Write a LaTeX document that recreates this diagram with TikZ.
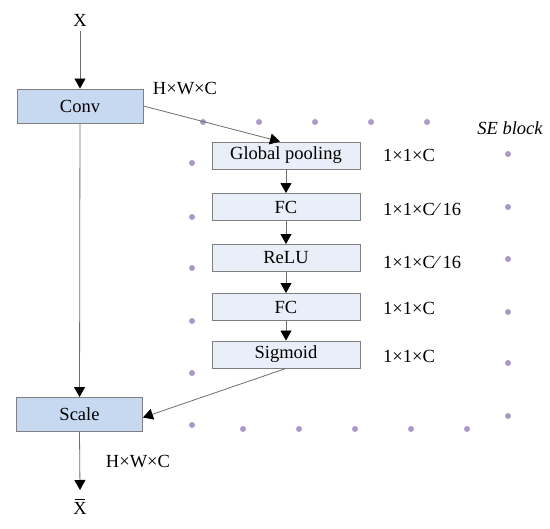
\documentclass[tikz,border=0pt]{standalone}
\usepackage{fontspec}
\setmainfont{Liberation Serif}
\newfontfamily\tms{Liberation Serif}
\usetikzlibrary{arrows.meta}
\definecolor{bigfill}{RGB}{198,217,240}
\definecolor{smallfill}{RGB}{233,239,248}
\definecolor{boxline}{RGB}{128,128,128}
\definecolor{dotc}{RGB}{170,152,200}
\newcommand{\barX}{\ooalign{X\cr\hidewidth\raisebox{0.78em}{\rule{0.55em}{0.055em}}\hidewidth\cr}}
\tikzset{
  txt/.style={font=\tms\fontsize{18.5}{20}\selectfont},
  bigbox/.style={txt, draw=boxline, fill=bigfill, line width=0.9pt, minimum width=126pt, minimum height=34pt, inner sep=0pt},
  sebox/.style={txt, draw=boxline, fill=smallfill, line width=0.9pt, minimum width=148pt, minimum height=27pt, inner sep=0pt},
  lbl/.style={txt, inner sep=0pt},
  conn/.style={draw=boxline!85!black, line width=0.8pt, -{Triangle[length=10pt,width=11pt,fill=black,color=black]}},
  sedot/.style={circle, fill=dotc, inner sep=0pt, minimum size=6pt}
}
\begin{document}
\begin{tikzpicture}[x=1pt,y=-1pt]
\useasboundingbox (0,0) rectangle (550,529);
\node[lbl] (x) at (80,20) {X};
\node[bigbox] (conv) at (80,106) {Conv};
\node[lbl] (hwc1) at (185,89) {H×W×C};
\node[sebox] (gp) at (286,155.5) {Global pooling};
\node[sebox] (fc1) at (286,207) {FC};
\node[sebox] (relu) at (286,258) {ReLU};
\node[sebox] (fc2) at (286,307) {FC};
\node[sebox] (sig) at (286,354.5) {Sigmoid};
\node[lbl, anchor=west] (l1) at (383,155) {1×1×C};
\node[lbl, anchor=west] (l2) at (383,209) {1×1×C⁄ 16};
\node[lbl, anchor=west] (l3) at (383,262) {1×1×C⁄ 16};
\node[lbl, anchor=west] (l4) at (383,308) {1×1×C};
\node[lbl, anchor=west] (l5) at (383,356) {1×1×C};
\node[lbl, font=\tms\fontsize{18.5}{20}\selectfont\itshape] (se) at (510,128) {SE block};
\node[bigbox] (scale) at (79.5,414.5) {Scale};
\node[lbl] (hwc2) at (138,462) {H×W×C};
\node[lbl] (xbar) at (80,508) {\barX};
% dots
\foreach \px [count=\i] in {203,259,315,371,427} \node[sedot] (t\i) at (\px,122) {};
\foreach \py [count=\i] in {154,207,259,312,363,416} \node[sedot] (r\i) at (508,\py) {};
\foreach \py [count=\i] in {163,217,268,321,373,425} \node[sedot] (lf\i) at (192,\py) {};
\foreach \px [count=\i] in {243,299,355,411,467} \node[sedot] (b\i) at (\px,429) {};
% connectors
\draw[conn] (x.south) ++(0,5) -- (conv.north);
\draw[conn] (conv.east) -- ([xshift=-6pt]gp.north);
\draw[conn] (gp) -- (fc1);
\draw[conn] (fc1) -- (relu);
\draw[conn] (relu) -- (fc2);
\draw[conn] (fc2) -- (sig);
\draw[conn] (conv) -- (scale);
\draw[conn] (sig.south) -- ([yshift=-3pt]scale.east);
\coordinate (xin) at (80,490);
\draw[conn] (scale.south) -- (xin);
\end{tikzpicture}
\end{document}
